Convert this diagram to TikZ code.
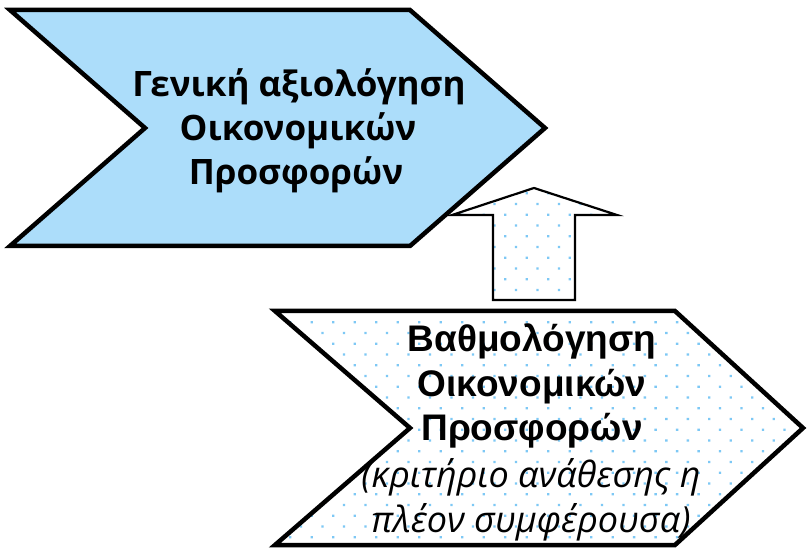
\documentclass[tikz,border=0pt]{standalone}
\usepackage{fontspec}
\newfontfamily\opfont{Open Sans}
\newfontfamily\arialfont{Liberation Sans}
\usetikzlibrary{patterns.meta}
\definecolor{topfill}{RGB}{172,221,250}
\definecolor{dotblue}{RGB}{125,200,245}
\tikzset{
  chevron/.style={draw=black, line width=4.5pt, line join=miter},
  dotted fill/.style={pattern={Dots[distance=15.2pt, angle=45, radius=1.6pt]}, pattern color=dotblue},
  blockarrow/.style={draw=black, line width=2.2pt, line join=miter},
  toptext/.style={anchor=base, inner sep=0pt, font=\opfont\bfseries\fontsize{35}{42}\selectfont},
  bottext/.style={anchor=base, inner sep=0pt, font=\arialfont\bfseries\fontsize{37}{44}\selectfont},
  itext/.style={anchor=base, inner sep=0pt, font=\opfont\itshape\fontsize{36}{44}\selectfont}
}
\begin{document}
\begin{tikzpicture}[x=1pt, y=-1pt]
\useasboundingbox (0,0) rectangle (807,548);
% top chevron
\path[chevron, fill=topfill] (10,10) -- (410,10) -- (545,128) -- (410,246) -- (10,246) -- (145,128) -- cycle;
% bottom chevron
\path[fill=white] (275,311) -- (675,311) -- (803,428) -- (675,545) -- (275,545) -- (410,428) -- cycle;
\path[chevron, dotted fill] (275,311) -- (675,311) -- (803,428) -- (675,545) -- (275,545) -- (410,428) -- cycle;
% block arrow
\path[fill=white] (493,300) -- (493,215) -- (452,215) -- (534,188) -- (617,215) -- (575,215) -- (575,300) -- cycle;
\path[blockarrow, dotted fill] (493,300) -- (493,215) -- (452,215) -- (534,188) -- (617,215) -- (575,215) -- (575,300) -- cycle;
% top text
\node[toptext] (t1) at (299,97) {Γενική αξιολόγηση};
\node[toptext] (t2) at (298,141) {Οικονομικών};
\node[toptext] (t3) at (296,185) {Προσφορών};
% bottom text
\node[bottext] (b1) at (532,352) {Βαθμολόγηση};
\node[bottext] (b2) at (532,397) {Οικονομικών};
\node[bottext] (b3) at (532,441) {Προσφορών};
\node[itext] (b4) at (531,487) {(κριτήριο ανάθεσης η};
\node[itext] (b5) at (531,532) {πλέον συμφέρουσα)};
\end{tikzpicture}
\end{document}
